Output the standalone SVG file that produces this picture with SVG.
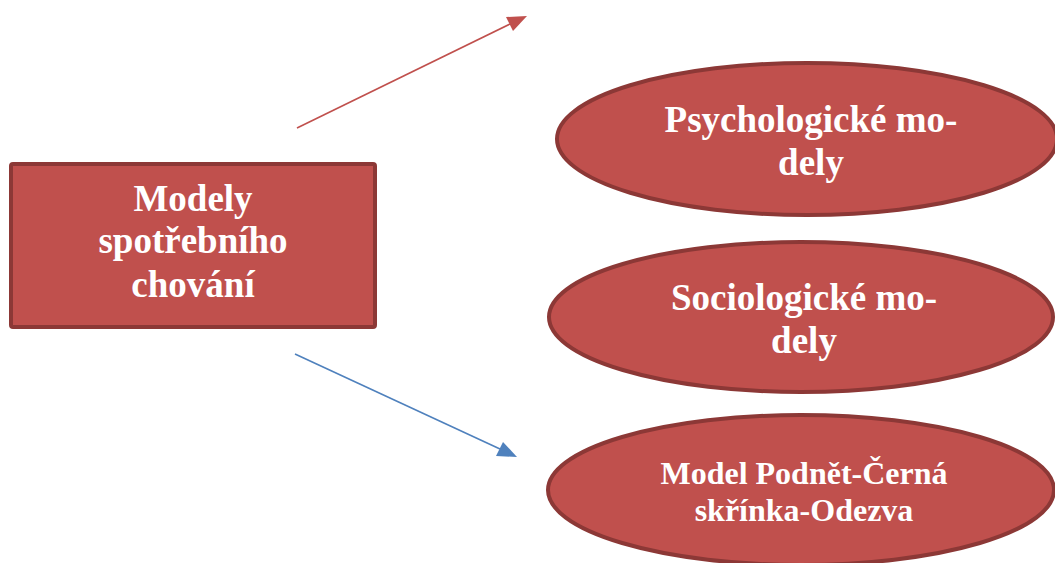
<svg xmlns="http://www.w3.org/2000/svg" width="1055" height="563" viewBox="0 0 1055 563">
<defs>
<style>
.node{fill:#C0504D;stroke:#8C3836;stroke-width:4}
.t{font-family:"Liberation Serif","Times New Roman",serif;font-weight:bold;fill:#FFFFFF;text-anchor:middle}
</style>
</defs>
<rect width="1055" height="563" fill="#FFFFFF"/>
<g id="connectors">
<line x1="297" y1="128" x2="510" y2="24" stroke="#C0504D" stroke-width="1.6"/>
<path d="M527,16 L506,17 L513,31 z" fill="#C0504D"/>
<line x1="295" y1="354" x2="500" y2="449" stroke="#4F81BD" stroke-width="1.6"/>
<path d="M517,457 L503,442 L496,456 z" fill="#4F81BD"/>
</g>
<g id="node-main">
<rect class="node" x="11" y="164" width="364" height="163" rx="2"/>
<text class="t" font-size="37"><tspan x="193" y="211">Modely</tspan><tspan x="193" y="253">spotřebního</tspan><tspan x="193" y="297">chování</tspan></text>
</g>
<g id="node-psych">
<ellipse class="node" cx="807" cy="139" rx="250" ry="76"/>
<text class="t" font-size="37"><tspan x="811" y="132">Psychologické mo-</tspan><tspan x="811" y="175">dely</tspan></text>
</g>
<g id="node-socio">
<ellipse class="node" cx="801" cy="317" rx="252" ry="75"/>
<text class="t" font-size="37"><tspan x="804" y="310">Sociologické mo-</tspan><tspan x="804" y="353">dely</tspan></text>
</g>
<g id="node-model">
<ellipse class="node" cx="801" cy="490" rx="253" ry="75"/>
<text class="t" font-size="32"><tspan x="804" y="484">Model Podnět-Černá</tspan><tspan x="804" y="521">skřínka-Odezva</tspan></text>
</g>
</svg>
